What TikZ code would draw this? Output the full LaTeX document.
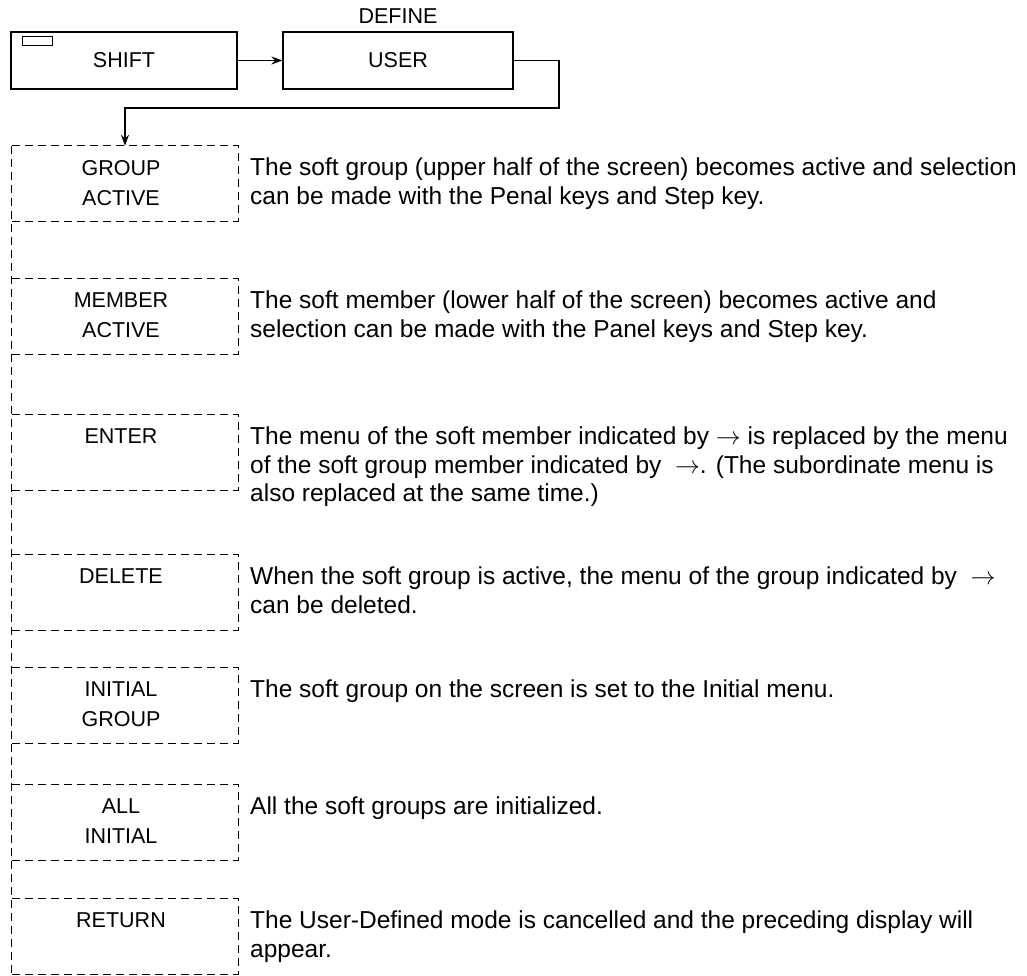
\documentclass[tikz,border=0pt]{standalone}
\usepackage{fontspec}
\setmainfont{Liberation Sans}
\usetikzlibrary{arrows.meta,positioning,calc}
\newcommand{\pointer}{\ensuremath{\rightarrow}}
\tikzset{
  >={Stealth[length=11pt,width=8pt]},
  keybox/.style={draw,line width=1.3pt,minimum height=57pt,inner sep=0pt,
    font=\fontsize{21.5}{25}\selectfont},
  softbox/.style={minimum width=226pt,minimum height=75pt,inner sep=0pt},
  softedge/.style={line width=1.3pt,dash pattern=on 8pt off 5pt},
  softlabel/.style={anchor=north,align=center,inner sep=0pt,
    font=\fontsize{21.5}{30}\selectfont},
  note/.style={anchor=north west,align=left,inner sep=0pt,
    font=\fontsize{24.5}{28.5}\selectfont},
  flow/.style={->,line width=1.3pt},
}
\begin{document}
\begin{tikzpicture}[x=1pt,y=-1pt]
  \useasboundingbox (0,0) rectangle (1027,975);
  % key sequence on top
  \node[keybox,minimum width=226pt] (shift) at (124,60.5) {SHIFT};
  \node[draw,line width=1pt,minimum width=30pt,minimum height=9pt,inner sep=0pt,anchor=north west]
    (lamp) at ([xshift=12pt,yshift=-5pt]shift.north west) {};
  \node[keybox,minimum width=230pt] (user) at (398,60.5) {USER};
  \node[anchor=south,inner sep=0pt,font=\fontsize{21.5}{25}\selectfont] (define)
    at ([yshift=8pt]user.north) {DEFINE};
  \draw[flow] (shift) -- (user);
  \coordinate (bend) at (559,108);
  % soft keys with their notes
  \foreach \lab/\txt/\ytop [count=\i] in {
    {GROUP\\ACTIVE}/{The soft group (upper half of the screen) becomes active and selection\\can be made with the Penal keys and Step key.}/146,
    {MEMBER\\ACTIVE}/{The soft member (lower half of the screen) becomes active and\\selection can be made with the Panel keys and Step key.}/279,
    {ENTER}/{The menu of the soft member indicated by \pointer{} is replaced by the menu\\of the soft group member indicated by \ \pointer. (The subordinate menu is\\also replaced at the same time.)}/415,
    {DELETE}/{When the soft group is active, the menu of the group indicated by \ \pointer\\can be deleted.}/555,
    {INITIAL\\GROUP}/{The soft group on the screen is set to the Initial menu.}/668,
    {ALL\\INITIAL}/{All the soft groups are initialized.}/785,
    {RETURN}/{The User-Defined mode is cancelled and the preceding display will\\appear.}/899}
  {
    \node[softbox] (k\i) at (125,\ytop+37.5) {};
    \node[softlabel] (l\i) at ([xshift=-4pt,yshift=-14pt]k\i.north) {\lab};
    \node[note] (n\i) at (250,\ytop+12) {\txt};
    \draw[softedge] (k\i.north west) -- (k\i.north east) -- (k\i.south east) -- (k\i.south west);
  }
  \draw[softedge] (k1.north west) -- (k7.south west);
  \draw[flow] (user.east) -| (bend) -| (k1.north);
\end{tikzpicture}
\end{document}
